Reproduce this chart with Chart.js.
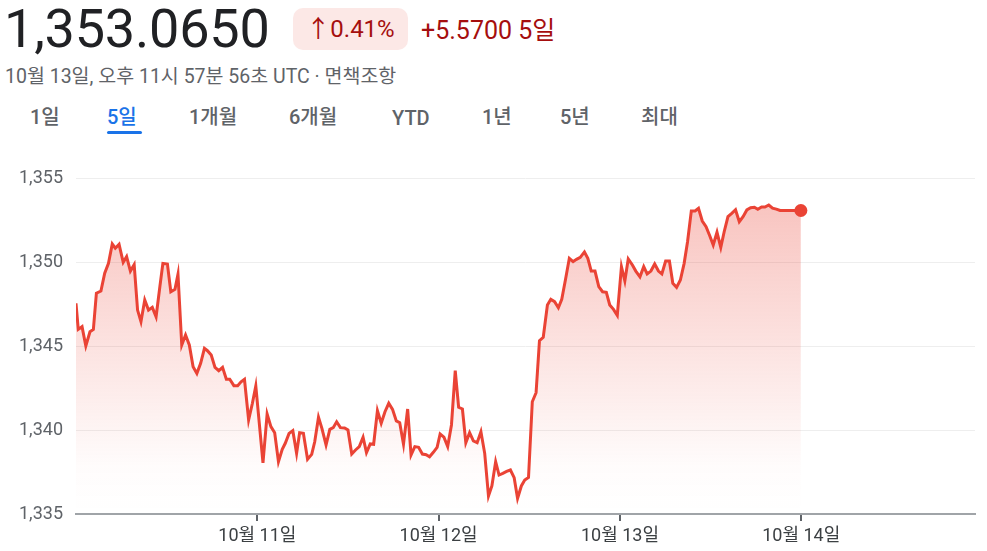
<!DOCTYPE html>
<html lang="ko">
<head>
    <meta charset="UTF-8">
    <title>USD/KRW 5일</title>
    <script src="https://cdn.jsdelivr.net/npm/chart.js"></script>
    <style>
        body {
            margin: 0;
            width: 987px; height: 551px;
            background: #FFFFFF;
            font-family: Roboto, 'Noto Sans CJK KR', sans-serif;
            position: relative; overflow: hidden;
        }
        .price { position: absolute; left: 4px; top: -3px; font-size: 54px; color: #202124; letter-spacing: -0.2px; }
        .badge {
            position: absolute; left: 293px; top: 8px; width: 115px; height: 42px;
            background: #fce8e6; border-radius: 10px;
            color: #a50e0e; font-size: 24px; line-height: 42px; text-align: center;
        }
        .delta { position: absolute; left: 421px; top: 10px; font-size: 25px; color: #a50e0e; }
        .stamp { position: absolute; left: 5px; top: 60px; font-size: 19.5px; color: #5f6368; }
        .tab { position: absolute; top: 102px; font-size: 20px; font-weight: 500; color: #5f6368; line-height: 30px; }
        .tab.on { color: #1a73e8; }
        .bar { position: absolute; left: 107px; top: 131px; width: 35px; height: 3px; border-radius: 2px; background: #1a73e8; }
        #wrap { position: absolute; left: 0; top: 150px; }
    </style>
</head>
<body>
    <div class="price">1,353.0650</div>
    <div class="badge">↑0.41%</div>
    <div class="delta">+5.5700 5일</div>
    <div class="stamp">10월 13일, 오후 11시 57분 56초 UTC · 면책조항</div>
    <div class="tab" style="left:30px">1일</div>
    <div class="tab on" style="left:107px">5일</div>
    <div class="bar"></div>
    <div class="tab" style="left:189px">1개월</div>
    <div class="tab" style="left:289px">6개월</div>
    <div class="tab" style="left:392px; top:102.5px">YTD</div>
    <div class="tab" style="left:482px">1년</div>
    <div class="tab" style="left:560px">5년</div>
    <div class="tab" style="left:641px">최대</div>
    <div id="wrap"><canvas id="fxChart" width="987" height="401"></canvas></div>

    <script>
        // hours since 10월 10일 00:00
        const hours = [0, 0.3, 0.8, 1.3, 1.85, 2.3, 2.7, 3.3, 3.8, 4.3, 4.8, 5.2, 5.7, 6.25, 6.7, 7.2, 7.7, 8.15, 8.6, 9.1,
            9.6, 10.1, 10.6, 11.1, 11.5, 12.1, 12.55, 13.1, 13.5, 14.0, 14.5, 15.0, 15.5, 16.0, 16.5, 17.0, 17.4, 17.9, 18.4, 18.9,
            19.4, 19.9, 20.35, 20.9, 21.4, 21.85, 22.3, 22.85, 23.35, 23.8, 24.75, 25.3, 25.8, 26.3, 26.8, 27.3, 27.7, 28.2, 28.7, 29.2,
            29.6, 30.1, 30.65, 31.2, 31.6, 32.1, 32.55, 33.1, 33.6, 34.05, 34.5, 35.0, 35.55, 36.0, 36.5, 37.0, 37.5, 38.0, 38.45, 38.95,
            39.4, 39.9, 40.4, 40.9, 41.4, 41.9, 42.4, 42.85, 43.35, 43.9, 44.35, 44.85, 45.35, 45.85, 46.35, 46.8, 47.3, 47.8, 48.2, 48.7,
            49.2, 49.7, 50.2, 50.65, 51.15, 51.6, 52.1, 52.6, 53.1, 53.6, 54.1, 54.6, 55.05, 55.55, 56.0, 56.5, 57.0, 57.5, 58.0, 58.45,
            58.95, 59.4, 59.9, 60.4, 60.9, 61.35, 61.85, 62.4, 62.85, 63.35, 63.85, 64.3, 64.8, 65.3, 65.8, 66.25, 66.75, 67.3, 67.75, 68.2,
            68.7, 69.2, 69.7, 70.2, 70.65, 71.15, 71.65, 72.2, 72.65, 73.1, 73.65, 74.1, 74.65, 75.15, 75.6, 76.1, 76.6, 77.1, 77.55, 78.05,
            78.55, 79.0, 79.5, 80.0, 80.5, 80.95, 81.45, 81.95, 82.4, 82.9, 83.4, 83.9, 84.35, 84.85, 85.35, 85.8, 86.3, 86.8, 87.3, 87.8,
            88.3, 88.8, 89.3, 89.8, 90.25, 90.75, 91.2, 91.7, 92.2, 92.7, 93.2, 93.7, 94.2, 94.7, 95.2, 95.95];
        const rates = [1347.54, 1345.99, 1346.15, 1345.00, 1345.85, 1345.99, 1348.14, 1348.27, 1349.33, 1349.92,
            1351.07, 1350.82, 1351.05, 1349.98, 1350.32, 1349.46, 1349.84, 1347.14, 1346.45, 1347.74,
            1347.14, 1347.30, 1346.74, 1348.53, 1349.92, 1349.88, 1348.23, 1348.37, 1349.27, 1345.06,
            1345.65, 1345.06, 1343.77, 1343.37, 1343.97, 1344.86, 1344.72, 1344.46, 1343.73, 1343.53,
            1343.73, 1343.02, 1343.02, 1342.64, 1342.64, 1342.87, 1343.02, 1340.60, 1341.59, 1342.62,
            1338.05, 1340.95, 1340.20, 1339.84, 1338.11, 1338.85, 1339.21, 1339.80, 1339.96, 1338.61,
            1339.84, 1339.80, 1338.26, 1338.55, 1339.30, 1340.76, 1340.10, 1339.11, 1340.04, 1340.14,
            1340.49, 1340.14, 1340.12, 1340.00, 1338.57, 1338.81, 1339.01, 1339.57, 1338.65, 1339.17,
            1339.15, 1341.15, 1340.40, 1341.09, 1341.59, 1341.23, 1340.54, 1340.43, 1339.15, 1341.25,
            1338.51, 1339.01, 1338.97, 1338.57, 1338.53, 1338.41, 1338.67, 1338.97, 1339.76, 1339.57,
            1339.01, 1340.30, 1343.53, 1341.35, 1341.25, 1339.24, 1339.84, 1339.35, 1339.24, 1339.90,
            1338.61, 1336.07, 1336.67, 1338.11, 1337.32, 1337.42, 1337.54, 1337.62, 1337.16, 1335.93,
            1336.67, 1337.02, 1337.18, 1341.68, 1342.22, 1345.32, 1345.52, 1347.44, 1347.78, 1347.64,
            1347.28, 1347.78, 1348.97, 1350.22, 1350.02, 1350.16, 1350.28, 1350.60, 1350.22, 1349.46,
            1349.46, 1348.53, 1348.23, 1348.20, 1347.44, 1347.18, 1346.82, 1349.72, 1348.87, 1350.18,
            1349.82, 1349.46, 1349.12, 1349.72, 1349.29, 1349.46, 1349.88, 1349.46, 1349.29, 1350.06,
            1350.06, 1348.73, 1348.49, 1348.93, 1349.92, 1351.21, 1353.04, 1353.04, 1353.20, 1352.44,
            1352.10, 1351.55, 1351.01, 1351.77, 1350.87, 1351.80, 1352.70, 1352.90, 1353.11, 1352.40,
            1352.70, 1353.10, 1353.23, 1353.26, 1353.14, 1353.27, 1353.27, 1353.39, 1353.20, 1353.15,
            1353.065, 1353.065, 1353.065, 1353.065, 1353.065, 1353.065];

        const dayTicks = [24, 48, 72, 96];
        const dayLabels = ['10월 11일', '10월 12일', '10월 13일', '10월 14일'];
        const yTicks = [1335, 1340, 1345, 1350, 1355];
        const yLabels = ['1,335', '1,340', '1,345', '1,350', '1,355'];

        const lineRed = '#ea4335';
        const lastIdx = rates.length - 1;

        function redFade(context) {
            const { ctx, chartArea } = context.chart;
            if (!chartArea) return 'rgba(234,67,53,0.1)';
            const g = ctx.createLinearGradient(0, chartArea.top, 0, chartArea.bottom);
            g.addColorStop(0, 'rgba(234,67,53,0.34)');
            g.addColorStop(0.86, 'rgba(234,67,53,0.015)');
            g.addColorStop(1, 'rgba(234,67,53,0)');
            return g;
        }

        new Chart(document.getElementById('fxChart'), {
            type: 'line',
            data: {
                datasets: [{
                    data: hours.map((h, i) => ({ x: h, y: rates[i] })),
                    borderColor: lineRed,
                    borderWidth: 3,
                    backgroundColor: redFade,
                    fill: 'start',
                    tension: 0,
                    pointRadius: ctx => ctx.dataIndex === lastIdx ? 6.5 : 0,
                    pointBackgroundColor: lineRed,
                    pointBorderWidth: 0
                }]
            },
            options: {
                responsive: false,
                animation: false,
                layout: { padding: { top: 28, right: 12, left: 0, bottom: 0 } },
                scales: {
                    x: {
                        type: 'linear',
                        min: 0, max: 119,
                        afterBuildTicks: s => { s.ticks = dayTicks.map(v => ({ value: v })); },
                        afterFit: s => { s.height = 37; },
                        ticks: {
                            callback: v => dayLabels[dayTicks.indexOf(v)],
                            color: '#3c4043',
                            font: { family: "Roboto, 'Noto Sans CJK KR'", size: 18 },
                            padding: 5,
                            maxRotation: 0
                        },
                        grid: { drawOnChartArea: false, tickLength: 7, color: '#5f6368', lineWidth: 2 },
                        border: { color: '#a0a4a8', width: 2 }
                    },
                    y: {
                        min: 1335, max: 1355,
                        afterBuildTicks: s => { s.ticks = yTicks.map(v => ({ value: v })); },
                        afterFit: s => { s.width = 76; },
                        ticks: {
                            callback: v => yLabels[yTicks.indexOf(v)],
                            color: '#5f6368',
                            font: { family: 'Roboto', size: 18 },
                            padding: 13
                        },
                        grid: { color: '#eeeeee', drawTicks: false },
                        border: { display: false }
                    }
                },
                plugins: {
                    legend: { display: false },
                    tooltip: { enabled: false }
                }
            }
        });
    </script>
</body>
</html>
